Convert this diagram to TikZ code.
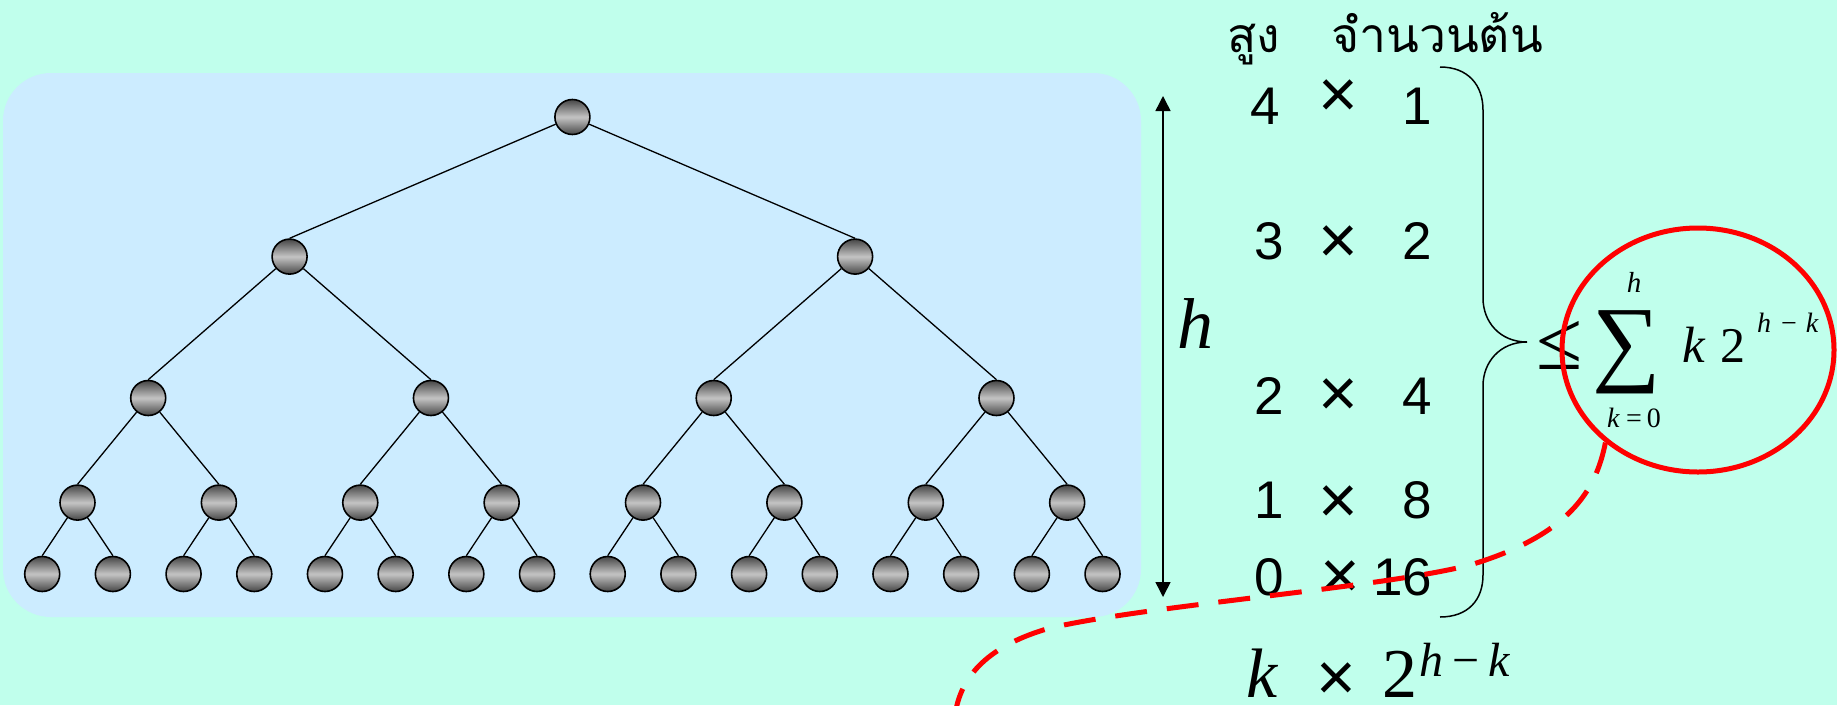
\documentclass[tikz,border=0pt]{standalone}
\usepackage{fontspec}
\setmainfont{Liberation Serif}
\newfontfamily\arialf{Liberation Sans}
\newfontfamily\thaifont[Script=Thai]{Loma}
\usetikzlibrary{shapes.geometric,arrows.meta}
\definecolor{mint}{RGB}{192,255,236}
\definecolor{paleblue}{RGB}{204,236,255}
\definecolor{ndark}{RGB}{70,70,70}
\definecolor{nlight}{RGB}{196,196,196}
\begin{document}
\begin{tikzpicture}[x=1pt,y=-1pt,
  treenode/.style={circle,draw=black,line width=1.6pt,minimum size=35pt,inner sep=0pt,
    top color=ndark,bottom color=ndark,middle color=nlight},
  edge/.style={line width=1.3pt},
  txt/.style={inner sep=0pt,outer sep=0pt},
  num/.style={txt,font=\arialf\fontsize{53}{60}\selectfont},
  times/.style={txt,font=\arialf\fontsize{68}{76}\selectfont},
  thai/.style={txt,font=\thaifont\fontsize{48}{56}\selectfont},
  bigit/.style={txt,font=\itshape\fontsize{70}{80}\selectfont},
  bigrm/.style={txt,font=\fontsize{70}{80}\selectfont},
  supit/.style={txt,font=\fontsize{48}{56}\selectfont},
  midtx/.style={txt,font=\fontsize{50}{60}\selectfont},
  limtx/.style={txt,font=\fontsize{28}{34}\selectfont},
  braceline/.style={line width=1.5pt},
  htip/.style={line width=1.5pt,{Triangle[width=15pt,length=15pt]}-{Triangle[width=15pt,length=15pt]}},
  reddash/.style={red,line width=5pt,dash pattern=on 32pt off 20pt}
]
% canvas
\fill[mint] (0,0) rectangle (1837,705);
\useasboundingbox (0,0) rectangle (1837,705);
\fill[paleblue,rounded corners=48pt] (3,73) rectangle (1141,617);

% tree nodes
\node[treenode] (r) at (572.4,117) {};
\foreach \i in {0,1} \node[treenode] (a\i) at ({289.6+565.5*\i},256.6) {};
\foreach \i in {0,...,3} \node[treenode] (b\i) at ({148.2+282.76*\i},398) {};
\foreach \i in {0,...,7} \node[treenode] (c\i) at ({77.5+141.38*\i},502.6) {};
\foreach \i in {0,...,15} \node[treenode] (d\i) at ({42.2+70.69*\i},574) {};

% tree edges (parent border to child top)
\draw[edge] (r) -- (a0.north);
\draw[edge] (r) -- (a1.north);
\foreach \i [evaluate=\i as \p using int(2*\i), evaluate=\i as \q using int(2*\i+1)] in {0,1} {
  \draw[edge] (a\i) -- (b\p.north);
  \draw[edge] (a\i) -- (b\q.north);
}
\foreach \i [evaluate=\i as \p using int(2*\i), evaluate=\i as \q using int(2*\i+1)] in {0,...,3} {
  \draw[edge] (b\i) -- (c\p.north);
  \draw[edge] (b\i) -- (c\q.north);
}
\foreach \i [evaluate=\i as \p using int(2*\i), evaluate=\i as \q using int(2*\i+1)] in {0,...,7} {
  \draw[edge] (c\i) -- (d\p.north);
  \draw[edge] (c\i) -- (d\q.north);
}

% height arrow
\coordinate (htop) at (1163,96);
\coordinate (hbot) at (1163,597);
\draw[htip] (htop) -- (hbot);
\node[txt,font=\itshape\fontsize{72}{80}\selectfont] (hlab) at (1195,324) {h};

% header
\node[thai,anchor=base] (hsung) at (1254,52) {สูง};
\node[thai,anchor=base] (hnum) at (1437,52) {จำนวนต้น};

% rows
\node[num] (l4) at (1265,106) {4};
\node[times] (x4) at (1338,99) {×};
\node[num,anchor=east] (r4) at (1432,106) {1};
\node[num] (l3) at (1269,241) {3};
\node[times] (x3) at (1338,245) {×};
\node[num,anchor=east] (r3) at (1432,241) {2};
\node[num] (l2) at (1269,396) {2};
\node[times] (x2) at (1338,398) {×};
\node[num,anchor=east] (r2) at (1432,396) {4};
\node[num] (l1) at (1269,500) {1};
\node[times] (x1) at (1338,505) {×};
\node[num,anchor=east] (r1) at (1432,500) {8};
\node[num] (l0) at (1269,577) {0};
\node[times] (x0) at (1340,580) {×};
\node[num,anchor=east] (r0) at (1432,577) {16};

% brace
\draw[braceline] (1440,67) .. controls (1468,67) and (1483,85) .. (1483,110)
  -- (1483,298) .. controls (1483,322) and (1500,342) .. (1527,342)
  .. controls (1500,342) and (1483,362) .. (1483,386)
  -- (1483,575) .. controls (1483,600) and (1468,617) .. (1440,617);

% sum formula
\node[txt,font=\fontsize{84}{90}\selectfont] (leq) at (1560,345) {≤};
\node[txt,font=\fontsize{96}{100}\selectfont] (sum) at (1627,352) {∑};
\node[limtx,anchor=base,font=\itshape\fontsize{29}{34}\selectfont] (uplim) at (1634,292) {h};
\node[limtx,anchor=base] (lolim) at (1634,427) {\textit{k}\hspace{6pt}=\hspace{5pt}0};
\node[midtx,anchor=base,font=\itshape\fontsize{51}{60}\selectfont] (sk) at (1694,362) {k};
\node[midtx,anchor=base] (s2) at (1733,362) {2};
\node[limtx,anchor=base west] (sexp) at (1757,332) {\textit{h}\hspace{10pt}−\hspace{9pt}\textit{k}};

\node[ellipse,draw=red,line width=5pt,minimum width=272pt,minimum height=244pt,inner sep=0pt] (circ) at (1698,350) {};

% bottom formula
\node[bigit,anchor=base] (bk) at (1262,697) {k};
\node[times] (bx) at (1336,682) {×};
\node[bigrm,anchor=base] (b2) at (1400,697) {2};
\node[supit,anchor=base west] (bexp) at (1419,676) {\textit{h}\hspace{9pt}−\hspace{9pt}\textit{k}};

% red dashed curve
\coordinate (dend) at (955,716);
\draw[reddash] (circ.225) .. controls (1596,490) and (1570,535) .. (1470,565)
  .. controls (1380,588) and (1150,605) .. (1050,628)
  .. controls (990,645) and (960,675) .. (dend);
\end{tikzpicture}
\end{document}
